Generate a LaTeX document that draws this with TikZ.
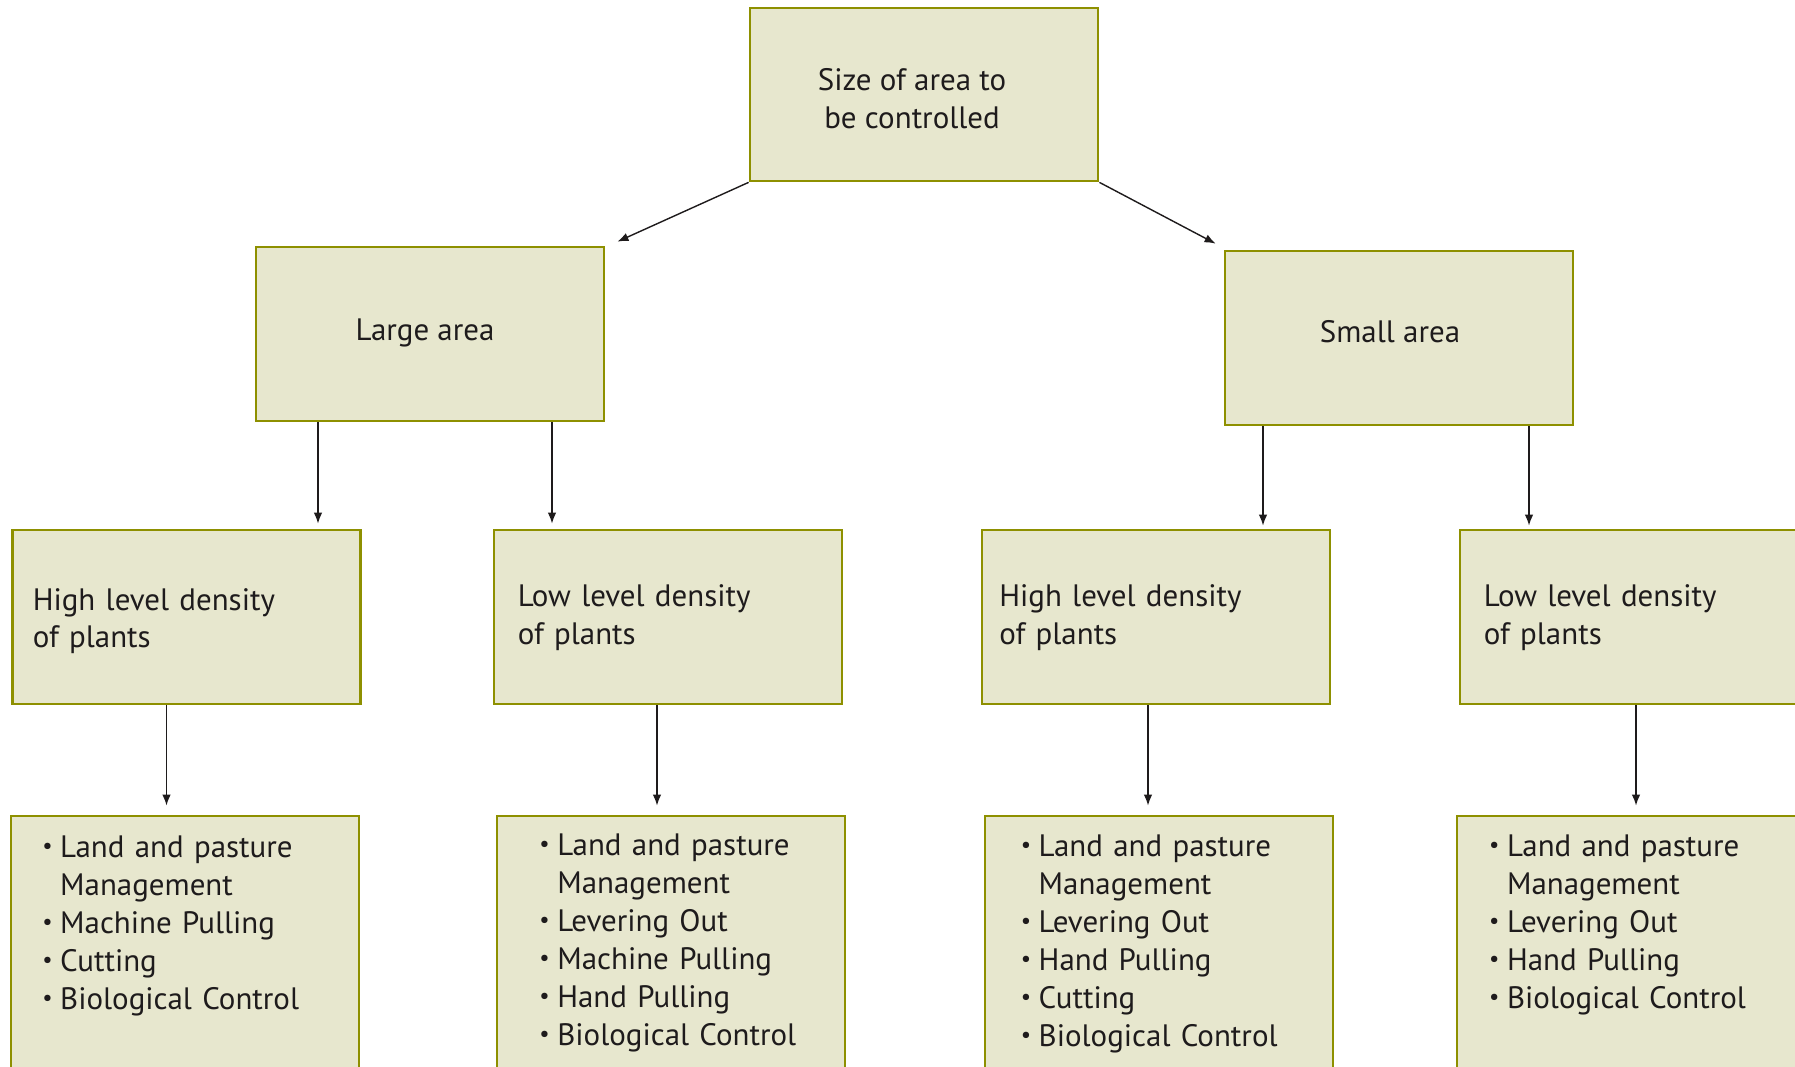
\documentclass[tikz,border=0pt]{standalone}
\usepackage{fontspec}
\setmainfont{PT Sans}
\usetikzlibrary{arrows.meta,positioning}
\definecolor{boxfill}{RGB}{231,231,206}
\definecolor{boxline}{RGB}{142,144,0}
\definecolor{ink}{RGB}{30,27,28}
\newcommand{\bul}{\makebox[0.254cm][c]{\raisebox{0.3ex}{\fontsize{6.5pt}{6.5pt}\selectfont\textbullet}}}
\newcommand{\nobul}{\hspace*{0.254cm}}

\begin{document}
\begin{tikzpicture}[x=0.01cm, y=-0.01cm, >={Latex[length=1.1mm, width=0.85mm]},
	every node/.style={font=\fontsize{8.8pt}{10.8pt}\selectfont, text=ink},
	ctrlbox/.style={draw=boxline, fill=boxfill, line width=0.75pt, minimum width=3.48cm, minimum height=1.74cm, inner sep=0pt},
	boxtext/.style={inner sep=0pt, align=center},
	listtext/.style={anchor=base west, inner sep=0pt, align=left, text width=3cm},
	link/.style={->, ink, line width=0.4pt}]
	\useasboundingbox (0,0) rectangle (1795,1066);
	\clip (0,0) rectangle (1795,1066);
	% top level
	\node[ctrlbox, minimum height=1.73cm] (size) at (924,94.5) {};
	\node[ctrlbox] (large) at (430,334) {};
	\node[ctrlbox] (small) at (1399,338) {};
	\node[boxtext] (sizet) at ([shift={(-12,4)}]size.center) {Size of area to\\be controlled};
	\node[boxtext] (larget) at ([shift={(-5,-1)}]large.center) {Large area};
	\node[boxtext] (smallt) at ([shift={(-9,-6)}]small.center) {Small area};
	% density boxes
	\node[ctrlbox] (hl) at (186.5,617) {};
	\node[ctrlbox] (ll) at (668,617) {};
	\node[ctrlbox] (hs) at (1156,617) {};
	\node[ctrlbox] (ls) at (1634,617) {};
	\node[listtext] (hlt) at ([shift={(21,-7)}]hl.west) {High level density\\of plants};
	\node[listtext] (llt) at ([shift={(24.5,-10.4)}]ll.west) {Low level density\\of plants};
	\node[listtext] (hst) at ([shift={(18,-10.4)}]hs.west) {High level density\\of plants};
	\node[listtext] (lst) at ([shift={(24.5,-10.4)}]ls.west) {Low level density\\of plants};
	% methods
	\node[ctrlbox, minimum height=2.6cm] (b1) at (185,946) {};
	\node[ctrlbox, minimum height=2.6cm] (b2) at (671,946) {};
	\node[ctrlbox, minimum height=2.6cm] (b3) at (1159,946) {};
	\node[ctrlbox, minimum height=2.6cm] (b4) at (1631,946) {};
	\node[listtext] (b1t) at ([shift={(24.5,43.3)}]b1.north west) {\bul Land and pasture\\\nobul Management\\\bul Machine Pulling\\\bul Cutting\\\bul Biological Control};
	\node[listtext] (b2t) at ([shift={(35.6,41.3)}]b2.north west) {\bul Land and pasture\\\nobul Management\\\bul Levering Out\\\bul Machine Pulling\\\bul Hand Pulling\\\bul Biological Control};
	\node[listtext] (b3t) at ([shift={(29,42.3)}]b3.north west) {\bul Land and pasture\\\nobul Management\\\bul Levering Out\\\bul Hand Pulling\\\bul Cutting\\\bul Biological Control};
	\node[listtext] (b4t) at ([shift={(25.3,42.3)}]b4.north west) {\bul Land and pasture\\\nobul Management\\\bul Levering Out\\\bul Hand Pulling\\\bul Biological Control};
	% connectors
	\draw[link] (size.south west) -- ([shift={(12,-4)}]large.north east);
	\draw[link] (size.south east) -- ([shift={(-8,-6)}]small.north west);
	\coordinate (l1) at ([shift={(-112,0)}]large.south);
	\coordinate (l2) at ([shift={(122,0)}]large.south);
	\coordinate (s1) at ([shift={(-136,0)}]small.south);
	\coordinate (s2) at ([shift={(130,0)}]small.south);
	\draw[link, shorten >=0.05cm] (l1) -- (l1 |- hl.north);
	\draw[link, shorten >=0.05cm] (l2) -- (l2 |- ll.north);
	\draw[link, shorten >=0.03cm] (s1) -- (s1 |- hs.north);
	\draw[link, shorten >=0.03cm] (s2) -- (s2 |- ls.north);
	\coordinate (d1) at ([shift={(-20,0)}]hl.south);
	\coordinate (d2) at ([shift={(-11,0)}]ll.south);
	\coordinate (d3) at ([shift={(-8,0)}]hs.south);
	\coordinate (d4) at ([shift={(2,0)}]ls.south);
	\draw[link, shorten >=0.09cm] (d1) -- (d1 |- b1.north);
	\draw[link, shorten >=0.09cm] (d2) -- (d2 |- b2.north);
	\draw[link, shorten >=0.09cm] (d3) -- (d3 |- b3.north);
	\draw[link, shorten >=0.09cm] (d4) -- (d4 |- b4.north);
\end{tikzpicture}
\end{document}
